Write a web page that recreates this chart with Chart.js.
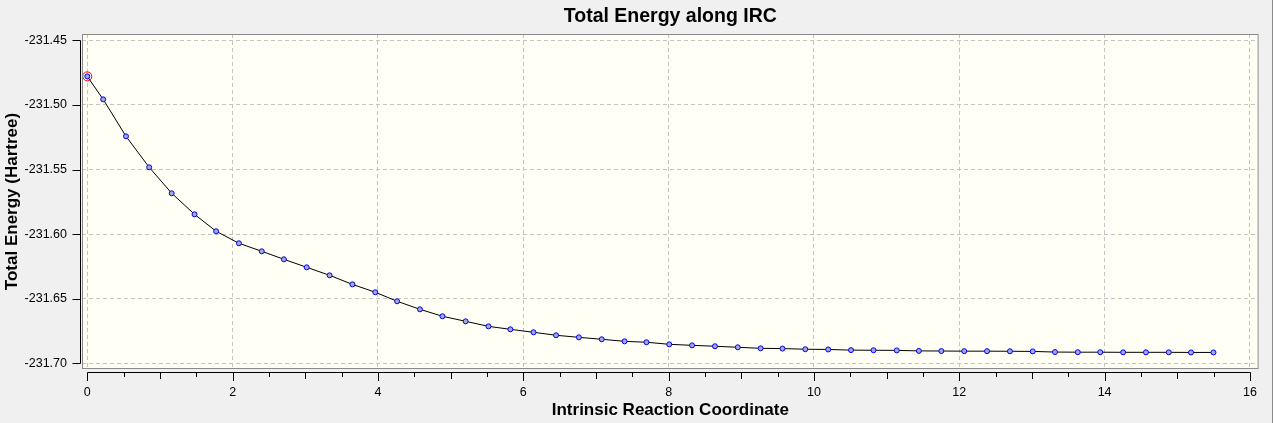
<!DOCTYPE html>
<html><head><meta charset="utf-8">
<script src="https://cdn.jsdelivr.net/npm/chart.js@4.4.1/dist/chart.umd.min.js"></script>
<style>html,body{margin:0;padding:0;background:#f0f0f0;overflow:hidden}canvas{display:block}</style>
</head><body>
<canvas id="c" width="1273" height="423"></canvas>
<script>
// ---- data ----
const ircX = [0.000, 0.219, 0.533, 0.852, 1.162, 1.476, 1.773, 2.087, 2.401, 2.706,
  3.020, 3.335, 3.649, 3.963, 4.264, 4.578, 4.888, 5.207, 5.521, 5.822,
  6.141, 6.451, 6.765, 7.080, 7.394, 7.695, 8.009, 8.323, 8.638, 8.952,
  9.266, 9.567, 9.881, 10.196, 10.510, 10.820, 11.140, 11.444, 11.753, 12.068,
  12.382, 12.697, 13.011, 13.317, 13.631, 13.940, 14.255, 14.569, 14.883, 15.189, 15.498];
const energy = [-231.4779, -231.4957, -231.5243, -231.5483, -231.5684, -231.5847, -231.5978, -231.6071, -231.6133, -231.6195,
  -231.6257, -231.6319, -231.6389, -231.6450, -231.6520, -231.6582, -231.6636, -231.6675, -231.6714, -231.6737,
  -231.6760, -231.6783, -231.6799, -231.6814, -231.6830, -231.6837, -231.6853, -231.6861, -231.6868, -231.6876,
  -231.6884, -231.6886, -231.6891, -231.6893, -231.6898, -231.6899, -231.6900, -231.6904, -231.6905, -231.6906,
  -231.6906, -231.6907, -231.6908, -231.6913, -231.6914, -231.6914, -231.6915, -231.6915, -231.6915, -231.6916, -231.6916];
const xTickValues = [0, 2, 4, 6, 8, 10, 12, 14, 16];
const xMidTickValues = [1, 3, 5, 7, 9, 11, 13, 15];
const xMinorTickValues = [0.5, 1.5, 2.5, 3.5, 4.5, 5.5, 6.5, 7.5, 8.5, 9.5, 10.5, 11.5, 12.5, 13.5, 14.5, 15.5];
const yTickValues = [-231.45, -231.50, -231.55, -231.60, -231.65, -231.70];
const highlightIndex = 0;

const points = ircX.map((x, i) => ({x: x, y: energy[i]}));
const FONT = "'Liberation Sans', Arial, sans-serif";

const framePlugin = {
  id: 'frame',
  beforeDraw(chart) {
    const {ctx, chartArea: a} = chart;
    ctx.save();
    ctx.fillStyle = '#fffff5';
    ctx.fillRect(a.left, a.top, a.right - a.left, a.bottom - a.top);
    ctx.restore();
  },
  afterDraw(chart) {
    const {ctx, chartArea: a} = chart;
    const xs = chart.scales.x, ys = chart.scales.y;
    ctx.save();
    // plot frame
    ctx.strokeStyle = '#8a8a8a';
    ctx.lineWidth = 1;
    ctx.strokeRect(a.left + 0.5, a.top + 0.5, a.right - a.left - 1, a.bottom - a.top - 1);
    // window right edge
    ctx.beginPath();
    ctx.moveTo(chart.width - 0.5, 0); ctx.lineTo(chart.width - 0.5, chart.height);
    ctx.stroke();
    // y axis line + ticks
    ctx.strokeStyle = '#000';
    const yAxisX = a.left - 1.5;
    const yTop = ys.getPixelForValue(yTickValues[0]);
    const yBot = ys.getPixelForValue(yTickValues[yTickValues.length - 1]);
    ctx.beginPath();
    ctx.moveTo(yAxisX, Math.round(yTop) + 0.5); ctx.lineTo(yAxisX, Math.round(yBot) + 0.5);
    yTickValues.forEach(v => {
      const p = Math.round(ys.getPixelForValue(v)) + 0.5;
      ctx.moveTo(yAxisX - 8, p); ctx.lineTo(yAxisX, p);
    });
    ctx.stroke();
    // x axis line + ticks
    const xAxisY = a.bottom + 3.5;
    const xL = xs.getPixelForValue(xTickValues[0]);
    const xR = xs.getPixelForValue(xTickValues[xTickValues.length - 1]);
    ctx.beginPath();
    ctx.moveTo(Math.round(xL) + 0.5, xAxisY); ctx.lineTo(Math.round(xR) + 0.5, xAxisY);
    const tick = (v, len) => {
      const p = Math.round(xs.getPixelForValue(v)) + 0.5;
      ctx.moveTo(p, xAxisY); ctx.lineTo(p, xAxisY + len);
    };
    xTickValues.forEach(v => tick(v, 8.5));
    xMidTickValues.forEach(v => tick(v, 6.5));
    xMinorTickValues.forEach(v => tick(v, 4.5));
    ctx.stroke();
    ctx.restore();
  }
};

new Chart(document.getElementById('c'), {
  type: 'line',
  data: {
    datasets: [
      {
        data: [points[highlightIndex]],
        showLine: false,
        pointRadius: 4.5,
        pointBorderWidth: 1,
        pointBorderColor: '#ff0000',
        pointBackgroundColor: 'rgba(0,0,0,0)',
        order: 0
      },
      {
        data: points,
        borderColor: '#000000',
        borderWidth: 1,
        tension: 0,
        fill: false,
        pointRadius: 2.5,
        pointBorderWidth: 1,
        pointBorderColor: '#0000ff',
        pointBackgroundColor: '#a3a8d6',
        order: 1
      }
    ]
  },
  options: {
    responsive: false,
    animation: false,
    devicePixelRatio: 1,
    layout: {padding: {left: 0, right: 7, top: 0, bottom: 0}},
    plugins: {
      legend: {display: false},
      tooltip: {enabled: false},
      title: {
        display: true,
        text: 'Total Energy along IRC',
        fullSize: false,
        color: '#000',
        font: {family: FONT, size: 19.5, weight: 'bold', lineHeight: 1.2},
        padding: {top: 4.6, bottom: 6}
      }
    },
    scales: {
      x: {
        type: 'linear',
        min: -0.0725,
        max: 16.119,
        afterBuildTicks: s => { s.ticks = xTickValues.map(v => ({value: v})); },
        afterFit: s => { s.height = 54; },
        grid: {color: '#c4c4c4', lineWidth: 1, drawTicks: false},
        border: {display: false, dash: [4, 3]},
        ticks: {
          color: '#000', padding: 16, maxRotation: 0, autoSkip: false,
          font: {family: FONT, size: 12.5},
          callback: v => String(v)
        },
        title: {
          display: true, text: 'Intrinsic Reaction Coordinate', color: '#000',
          font: {family: FONT, size: 17, weight: 'bold', lineHeight: 1.2},
          padding: {top: 0, bottom: 2.8}
        }
      },
      y: {
        type: 'linear',
        min: -231.70441,
        max: -231.44512,
        afterBuildTicks: s => { s.ticks = yTickValues.map(v => ({value: v})); },
        afterFit: s => { s.width = 82; },
        grid: {color: '#c4c4c4', lineWidth: 1, drawTicks: false},
        border: {display: false, dash: [4, 3]},
        ticks: {
          color: '#000', padding: 15, autoSkip: false,
          font: {family: FONT, size: 12.5},
          callback: v => v.toFixed(2)
        },
        title: {
          display: true, text: 'Total Energy (Hartree)', color: '#000',
          font: {family: FONT, size: 17, weight: 'bold', lineHeight: 1.2},
          padding: {top: 1.8, bottom: 0}
        }
      }
    }
  },
  plugins: [framePlugin]
});
</script>
</body></html>
